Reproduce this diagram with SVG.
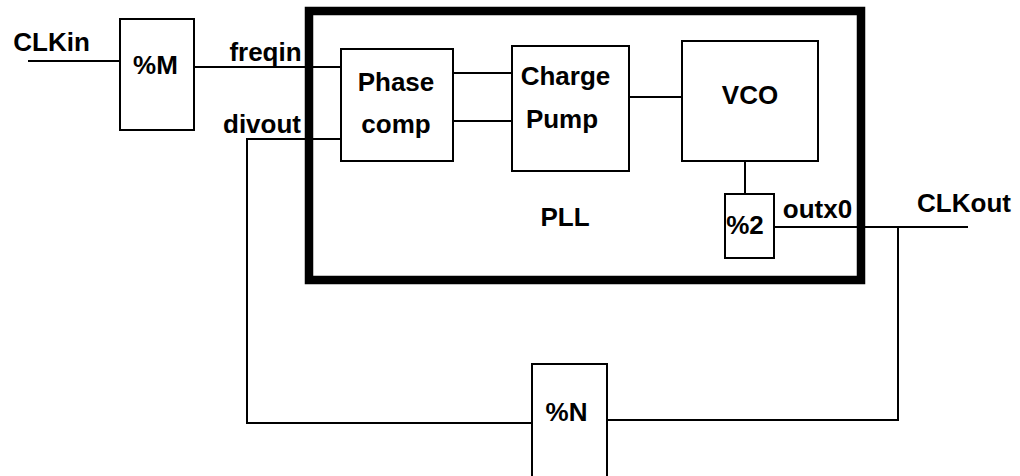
<svg xmlns="http://www.w3.org/2000/svg" width="1020" height="476" viewBox="0 0 1020 476">
<style>
.box{fill:#fff;stroke:#000;stroke-width:2}
.pll{fill:none;stroke:#000;stroke-width:8.5}
.w{fill:none;stroke:#000;stroke-width:2}
text{font-family:"Liberation Sans",Arial,sans-serif;font-weight:bold;font-size:26px;fill:#000;text-anchor:middle}
</style>
<rect width="1020" height="476" fill="#fff"/>
<g id="pll"><rect class="pll" x="309" y="11" width="552" height="269"/><text x="565" y="226">PLL</text></g>
<g id="connectors">
<path class="w" d="M28 61H120"/>
<path class="w" d="M194 67H341"/>
<path class="w" d="M341 139H247V423H532"/>
<path class="w" d="M453 73H512"/>
<path class="w" d="M453 121H512"/>
<path class="w" d="M629 97H682"/>
<path class="w" d="M745 161V194"/>
<path class="w" d="M774 227H968"/>
<path class="w" d="M898 227V420H607"/>
</g>
<g id="clkin"><text x="51.5" y="51">CLKin</text></g>
<g id="divM"><rect class="box" x="120" y="19" width="74" height="111"/><text x="155.5" y="74">%M</text></g>
<g id="freqin"><text x="265.5" y="61">freqin</text></g>
<g id="divout"><text x="262" y="133">divout</text></g>
<g id="phase"><rect class="box" x="341" y="49" width="112" height="112"/><text x="396" y="91">Phase</text><text x="396" y="133">comp</text></g>
<g id="charge"><rect class="box" x="512" y="46" width="117" height="125"/><text x="565.5" y="85">Charge</text><text x="562" y="128">Pump</text></g>
<g id="vco"><rect class="box" x="682" y="41" width="136" height="120"/><text x="750" y="104">VCO</text></g>
<g id="div2"><rect class="box" x="725" y="194" width="49" height="64"/><text x="745" y="234">%2</text></g>
<g id="outx0"><text x="817.5" y="218">outx0</text></g>
<g id="clkout"><text x="964" y="212">CLKout</text></g>
<g id="divN"><rect class="box" x="532" y="364" width="75" height="120"/><text x="566.5" y="421">%N</text></g>
</svg>
